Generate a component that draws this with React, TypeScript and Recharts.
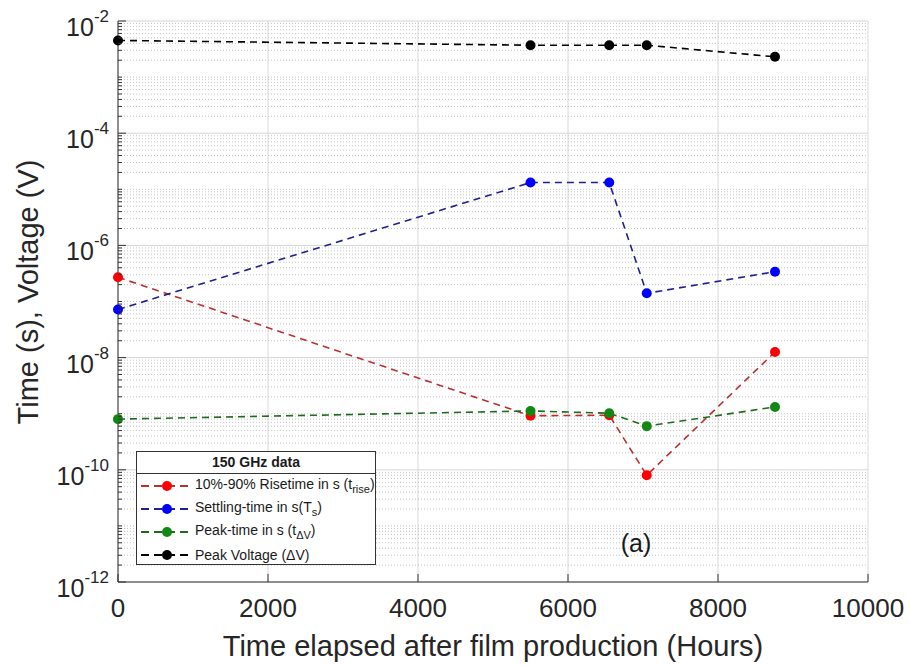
import React from 'react';
import { LineChart, Line, XAxis, YAxis, CartesianGrid, ReferenceLine } from 'recharts';

// hours after film production
const hours = [0, 5500, 6550, 7050, 8760];
// 150 GHz data
const riseTime = [2.7e-7, 9.2e-10, 9.4e-10, 8e-11, 1.26e-8];
const settlingTime = [7.2e-8, 1.32e-5, 1.32e-5, 1.4e-7, 3.4e-7];
const peakTime = [8e-10, 1.12e-9, 1.02e-9, 6e-10, 1.32e-9];
const peakVoltage = [4.5e-3, 3.7e-3, 3.7e-3, 3.7e-3, 2.3e-3];

const xTicks = [0, 2000, 4000, 6000, 8000, 10000];
const labeledExps = [-2, -4, -6, -8, -10, -12];

const FONT = '"Liberation Sans", Arial, Helvetica, sans-serif';

const data = hours.map((h, i) => ({
  hours: h,
  rise: riseTime[i],
  settling: settlingTime[i],
  peakT: peakTime[i],
  peakV: peakVoltage[i],
}));

// log axis tick positions: 1..9 x 10^n
const logTicks: number[] = [];
for (let n = -12; n <= -3; n++) {
  for (let m = 1; m <= 9; m++) logTicks.push(Number((m * Math.pow(10, n)).toPrecision(3)));
}
logTicks.push(1e-2);

const decadeOf = (v: number) => {
  const e = Math.round(Math.log10(v));
  return { e, isDecade: Math.abs(v / Math.pow(10, e) - 1) < 1e-6 };
};

const LeftTick = (props: any) => {
  const { x, y, payload } = props;
  const { e, isDecade } = decadeOf(payload.value);
  const labeled = isDecade && labeledExps.includes(e);
  return (
    <g>
      <line x1={x} x2={x + (labeled ? 8 : 4)} y1={y} y2={y} stroke="#333" strokeWidth={1} />
      {labeled && (
        <text x={x - 9} y={y + 15} textAnchor="end" fontSize={25} fill="#262626" fontFamily={FONT}>
          10
          <tspan dy={-14} fontSize={17}>{String(e)}</tspan>
        </text>
      )}
    </g>
  );
};

const RightTick = (props: any) => {
  const { x, y, payload } = props;
  const { e, isDecade } = decadeOf(payload.value);
  const labeled = isDecade && labeledExps.includes(e);
  return <line x1={x} x2={x - (labeled ? 8 : 4)} y1={y} y2={y} stroke="#333" strokeWidth={1} />;
};

const BottomTick = (props: any) => {
  const { x, y, payload } = props;
  return (
    <g>
      <line x1={x} x2={x} y1={y} y2={y - 8} stroke="#333" strokeWidth={1} />
      <text x={x} y={y + 35} textAnchor="middle" fontSize={26} fill="#262626" fontFamily={FONT}>
        {payload.value}
      </text>
    </g>
  );
};

const TopTick = (props: any) => {
  const { x, y } = props;
  return <line x1={x} x2={x} y1={y} y2={y + 8} stroke="#333" strokeWidth={1} />;
};

const series = [
  { key: 'rise', line: '#b8312f', marker: '#ff0000', label: '10%-90% Risetime in s (t', sub: 'rise', tail: ')' },
  { key: 'settling', line: '#1f1f8f', marker: '#0000ff', label: 'Settling-time in s(T', sub: 's', tail: ')' },
  { key: 'peakT', line: '#1e6b1e', marker: '#118811', label: 'Peak-time in s (t', sub: '\u0394V', tail: ')' },
  { key: 'peakV', line: '#000000', marker: '#000000', label: 'Peak Voltage (\u0394V)', sub: '', tail: '' },
];

const LegendBox = () => (
  <div
    style={{
      position: 'absolute',
      left: 136,
      top: 451,
      width: 240,
      height: 114,
      boxSizing: 'border-box',
      border: '1px solid #333',
      background: '#fff',
      fontFamily: FONT,
      color: '#1a1a1a',
    }}
  >
    <div
      style={{
        height: 21,
        lineHeight: '21px',
        textAlign: 'center',
        fontWeight: 'bold',
        fontSize: 14,
        borderBottom: '1px solid #333',
      }}
    >
      150 GHz data
    </div>
    {series.map((s) => (
      <div key={s.key} style={{ height: 23, display: 'flex', alignItems: 'center', fontSize: 14 }}>
        <svg width={58} height={14} style={{ flex: 'none' }}>
          <line x1={4} x2={52} y1={7} y2={7} stroke={s.line} strokeWidth={2} strokeDasharray="8 5" />
          <circle cx={30} cy={7} r={5} fill={s.marker} />
        </svg>
        <span style={{ whiteSpace: 'nowrap' }}>
          {s.label}
          {s.sub && <sub style={{ fontSize: 11 }}>{s.sub}</sub>}
          {s.tail}
        </span>
      </div>
    ))}
  </div>
);

export default function App() {
  return (
    <div style={{ position: 'absolute', left: 0, top: 0, width: 910, height: 665, background: '#fff' }}>
      <LineChart width={910} height={665} data={data} margin={{ top: 21, right: 42, bottom: 43, left: 58 }}>
        <CartesianGrid horizontal={false} vertical stroke="#d9d9d9" />
        {logTicks.map((v) => {
          const { e, isDecade } = decadeOf(v);
          const major = isDecade && labeledExps.includes(e);
          return (
            <ReferenceLine
              key={v}
              y={v}
              stroke={major ? '#d6d6d6' : '#c4c4c4'}
              strokeDasharray={major ? undefined : '1 2'}
              strokeWidth={1}
            />
          );
        })}
        <XAxis
          dataKey="hours"
          type="number"
          domain={[0, 10000]}
          ticks={xTicks}
          height={40}
          tickSize={0}
          tickMargin={0}
          tick={<BottomTick />}
          axisLine={{ stroke: '#333' }}
          tickLine={false}
          interval={0}
        />
        <XAxis
          xAxisId="top"
          orientation="top"
          dataKey="hours"
          type="number"
          domain={[0, 10000]}
          ticks={xTicks}
          height={0}
          tickSize={0}
          tickMargin={0}
          tick={<TopTick />}
          axisLine={{ stroke: '#333' }}
          tickLine={false}
          interval={0}
        />
        <YAxis
          scale="log"
          type="number"
          domain={[1e-12, 1e-2]}
          ticks={logTicks}
          allowDataOverflow
          width={60}
          tickSize={0}
          tickMargin={0}
          tick={<LeftTick />}
          axisLine={{ stroke: '#333' }}
          tickLine={false}
          interval={0}
        />
        <YAxis
          yAxisId="right"
          orientation="right"
          scale="log"
          type="number"
          domain={[1e-12, 1e-2]}
          ticks={logTicks}
          allowDataOverflow
          width={0}
          tickSize={0}
          tickMargin={0}
          tick={<RightTick />}
          axisLine={{ stroke: '#333' }}
          tickLine={false}
          interval={0}
        />
        {series.map((s) => (
          <Line
            key={s.key}
            type="linear"
            dataKey={s.key}
            stroke={s.line}
            strokeWidth={1.6}
            strokeDasharray="7 5"
            dot={{ r: 5, fill: s.marker, stroke: s.marker, strokeWidth: 0, strokeDasharray: '' }}
            activeDot={false}
            isAnimationActive={false}
          />
        ))}
      </LineChart>
      <LegendBox />
      <div
        style={{
          position: 'absolute',
          left: 636,
          top: 543,
          transform: 'translate(-50%, -50%)',
          fontFamily: FONT,
          fontSize: 25,
          color: '#1a1a1a',
          lineHeight: 1,
        }}
      >
        (a)
      </div>
      <div
        style={{
          position: 'absolute',
          left: 493,
          top: 646,
          transform: 'translate(-50%, -50%)',
          fontFamily: FONT,
          fontSize: 29,
          color: '#262626',
          whiteSpace: 'nowrap',
          lineHeight: 1,
        }}
      >
        Time elapsed after film production (Hours)
      </div>
      <div
        style={{
          position: 'absolute',
          left: 28,
          top: 292,
          transform: 'translate(-50%, -50%) rotate(-90deg)',
          fontFamily: FONT,
          fontSize: 29,
          color: '#262626',
          whiteSpace: 'nowrap',
          lineHeight: 1,
        }}
      >
        Time (s), Voltage (V)
      </div>
    </div>
  );
}
